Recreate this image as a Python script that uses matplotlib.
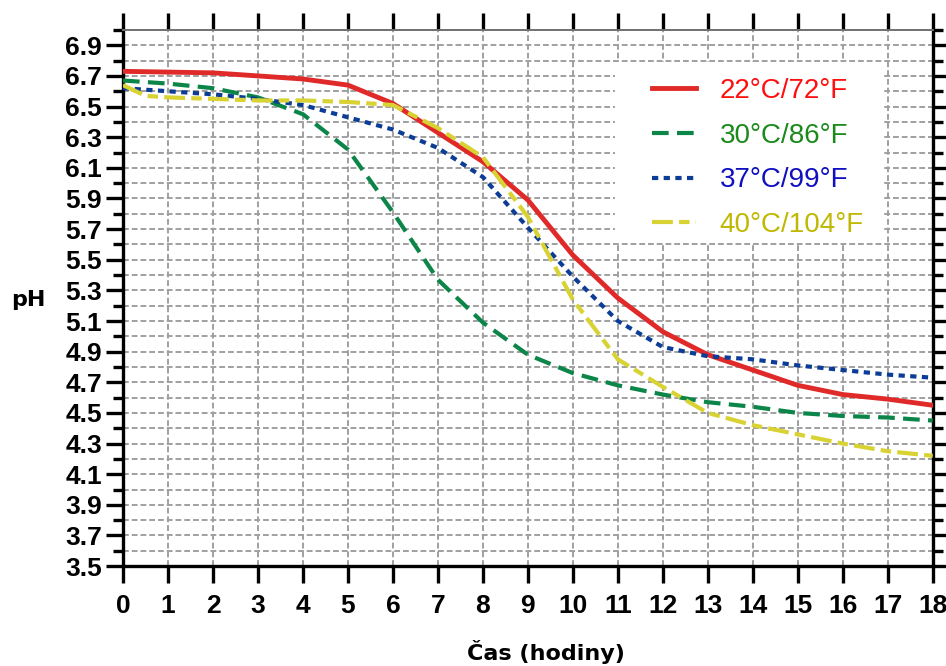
import matplotlib.pyplot as plt
import numpy as np
from matplotlib.patches import Rectangle
from matplotlib.ticker import MultipleLocator, FixedLocator

# hours and pH readings per temperature
hours = [0, 1, 2, 3, 4, 5, 6, 7, 8, 9, 10, 11, 12, 13, 14, 15, 16, 17, 18]
ph_22 = [6.73, 6.725, 6.72, 6.70, 6.68, 6.64, 6.52, 6.33, 6.14, 5.89, 5.53, 5.25,
         5.03, 4.88, 4.78, 4.68, 4.62, 4.59, 4.55]
ph_30 = [6.67, 6.65, 6.62, 6.56, 6.45, 6.22, 5.81, 5.37, 5.09, 4.88, 4.76, 4.68,
         4.62, 4.57, 4.54, 4.50, 4.48, 4.47, 4.45]
ph_37 = [6.62, 6.60, 6.58, 6.55, 6.51, 6.43, 6.35, 6.23, 6.04, 5.71, 5.39, 5.10,
         4.93, 4.87, 4.85, 4.81, 4.78, 4.75, 4.73]
hours_40 = [0, 0.5, 1, 2, 3, 4, 5, 6, 7, 8, 9, 10, 11, 12, 13, 14, 15, 16, 17, 18]
ph_40 = [6.64, 6.57, 6.56, 6.55, 6.54, 6.54, 6.53, 6.51, 6.36, 6.17, 5.78, 5.24,
         4.85, 4.67, 4.50, 4.42, 4.36, 4.30, 4.25, 4.22]

labels = ['22°C/72°F', '30°C/86°F', '37°C/99°F', '40°C/104°F']
line_colors = ['#e02a2a', '#0b8648', '#0c3d96', '#d8d232']
text_colors = ['#ff1010', '#1a8a1a', '#1010c0', '#c0b800']

fig = plt.figure(figsize=(9.46, 6.66), dpi=100)
ax = fig.add_axes([0.130, 0.150, 0.856, 0.805])

ax.plot(hours, ph_22, color=line_colors[0], lw=3.5, label=labels[0], zorder=3)
ax.plot(hours, ph_30, color=line_colors[1], lw=3.0, linestyle=(0, (4, 2.0)), label=labels[1], zorder=3)
ax.plot(hours, ph_37, color=line_colors[2], lw=3.0, linestyle=(0, (1.5, 1.3)), label=labels[2], zorder=3)
ax.plot(hours_40, ph_40, color=line_colors[3], lw=3.0, linestyle=(0, (5, 1.5, 2.5, 1.5)), label=labels[3], zorder=3)

ax.set_xlim(0, 18)
ax.set_ylim(3.5, 7.0)
ax.xaxis.set_major_locator(MultipleLocator(1))
ax.yaxis.set_major_locator(FixedLocator(np.round(np.arange(3.5, 6.95, 0.2), 1)))
ax.yaxis.set_minor_locator(FixedLocator(np.round(np.arange(3.6, 7.05, 0.2), 1)))
ax.set_yticklabels([f'{v:.1f}' for v in np.arange(3.5, 6.95, 0.2)])

ax.grid(True, which='major', axis='x', color='#a0a0a0', lw=1.4, linestyle=(0, (3, 1.5)))
ax.grid(True, which='both', axis='y', color='#a0a0a0', lw=1.4, linestyle=(0, (3, 1.5)))
ax.set_axisbelow(True)

for side in ['left', 'bottom', 'right']:
    ax.spines[side].set_linewidth(2.4)
    ax.spines[side].set_color('black')
ax.spines['top'].set_linestyle((0, (1, 1)))
ax.spines['top'].set_color('#707070')
ax.spines['top'].set_linewidth(1.4)

ax.tick_params(axis='x', which='major', direction='out', length=12, width=2.4,
               top=True, bottom=True, labelsize=19, pad=8)
ax.tick_params(axis='y', which='major', direction='out', length=12, width=2.4,
               left=True, right=True, labelsize=19, pad=3)
ax.tick_params(axis='y', which='minor', direction='out', length=7, width=2.4,
               left=True, right=True)
for lbl in ax.get_xticklabels() + ax.get_yticklabels():
    lbl.set_fontweight('bold')
    lbl.set_fontfamily('Liberation Sans')

ax.set_xlabel('Čas (hodiny)', fontsize=16, fontweight='bold', va='center')
ax.xaxis.set_label_coords(0.522, -0.160)
ax.set_ylabel('pH', fontsize=16, fontweight='bold', rotation=0, va='center', ha='center')
ax.yaxis.set_label_coords(-0.117, 0.496)

# white box behind the legend
ax.add_patch(Rectangle((0.607, 0.603), 0.331, 0.337, transform=ax.transAxes,
                       facecolor='white', edgecolor='none', zorder=2))

leg = ax.legend(loc='upper left', bbox_to_anchor=(0.653, 0.910), frameon=False,
                prop={'family': 'Liberation Sans', 'size': 20},
                handlelength=1.6, handletextpad=0.85, labelspacing=0.67,
                borderpad=0, borderaxespad=0)
for txt, c in zip(leg.get_texts(), text_colors):
    txt.set_color(c)

fig.savefig('out.png', dpi=100)
